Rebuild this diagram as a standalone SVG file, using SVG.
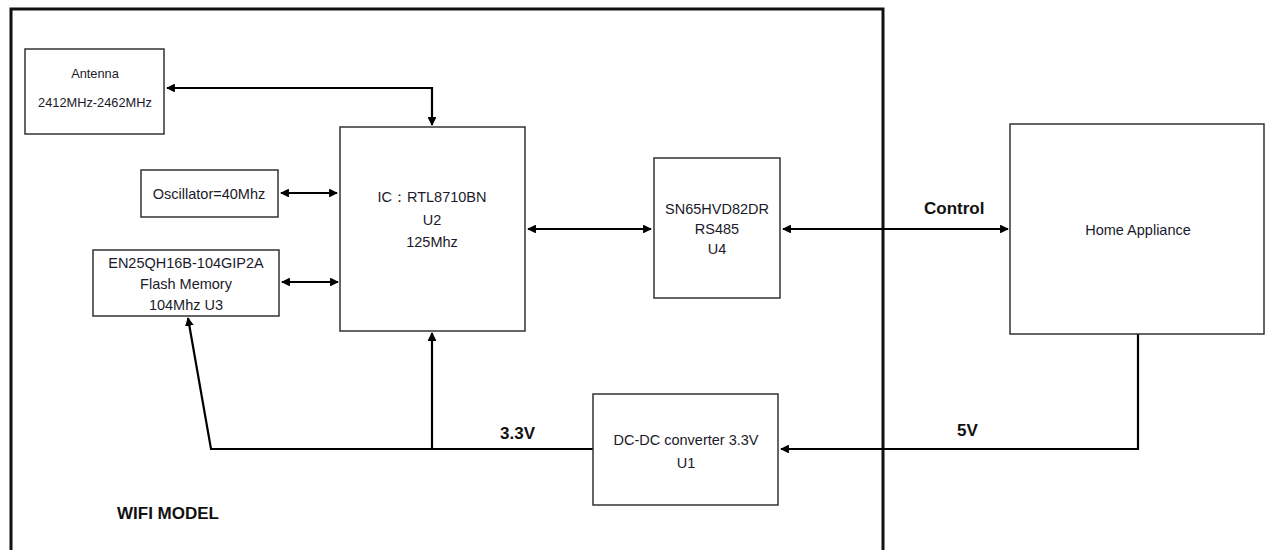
<svg xmlns="http://www.w3.org/2000/svg" width="1266" height="550" viewBox="0 0 1266 550">
<defs>
<marker id="ah" viewBox="0 0 10 10" refX="9" refY="5" markerWidth="4" markerHeight="4" orient="auto-start-reverse" markerUnits="strokeWidth">
<path d="M0,0 L10,5 L0,10 z" fill="#000"/>
</marker>
</defs>
<style>
.box{fill:#fff;stroke:#333;stroke-width:1.5}
.frame{fill:none;stroke:#111;stroke-width:3}
.t{font-family:"Liberation Sans",Arial,sans-serif;font-size:14.5px;fill:#1a1a2a;text-anchor:middle}
.s{font-size:12.8px}
.b{font-family:"Liberation Sans",Arial,sans-serif;font-size:17px;font-weight:bold;fill:#111}
.c{fill:none;stroke:#000;stroke-width:2.2}
.bi{marker-start:url(#ah);marker-end:url(#ah)}
.e{marker-end:url(#ah)}
</style>
<rect width="1266" height="550" fill="#fff"/>
<g id="wifi-frame">
<path class="frame" d="M11,560 L11,9 L883,9 L883,560"/>
<text class="b" x="117" y="519">WIFI MODEL</text>
</g>
<g id="connectors">
<path class="c bi" d="M167,88 L432,88 L432,125"/>
<path class="c bi" d="M281,193 L337,193"/>
<path class="c bi" d="M282,282 L338,282"/>
<path class="c bi" d="M528,229 L651,229"/>
<path class="c bi" d="M783,229 L1008,229"/>
<path class="c e" d="M1138,334 L1138,449 L781,449"/>
<path class="c e" d="M593,449 L211,449 L188,318"/>
<path class="c e" d="M432,449 L432,333"/>
<text class="b" x="924" y="214">Control</text>
<text class="b" x="957" y="436">5V</text>
<text class="b" x="500" y="439">3.3V</text>
</g>
<g id="antenna">
<rect class="box" x="25" y="49" width="139" height="85"/>
<text class="t s" x="95" y="78">Antenna</text>
<text class="t s" x="95" y="107">2412MHz-2462MHz</text>
</g>
<g id="oscillator">
<rect class="box" x="141" y="170" width="137" height="47"/>
<text class="t" x="209" y="199">Oscillator=40Mhz</text>
</g>
<g id="flash">
<rect class="box" x="93" y="250" width="186" height="66"/>
<text class="t" x="186" y="268">EN25QH16B-104GIP2A</text>
<text class="t" x="186" y="289">Flash Memory</text>
<text class="t" x="186" y="310">104Mhz U3</text>
</g>
<g id="ic">
<rect class="box" x="340" y="127" width="185" height="204"/>
<text class="t" x="432" y="202">IC：RTL8710BN</text>
<text class="t" x="432" y="225">U2</text>
<text class="t" x="432" y="247">125Mhz</text>
</g>
<g id="rs485">
<rect class="box" x="654" y="158" width="126" height="140"/>
<text class="t" x="717" y="214">SN65HVD82DR</text>
<text class="t" x="717" y="234">RS485</text>
<text class="t" x="717" y="254">U4</text>
</g>
<g id="home">
<rect class="box" x="1010" y="124" width="254" height="210"/>
<text class="t" x="1138" y="235">Home Appliance</text>
</g>
<g id="dcdc">
<rect class="box" x="593" y="394" width="185" height="111"/>
<text class="t" x="686" y="445">DC-DC converter 3.3V</text>
<text class="t" x="686" y="468">U1</text>
</g>
</svg>
